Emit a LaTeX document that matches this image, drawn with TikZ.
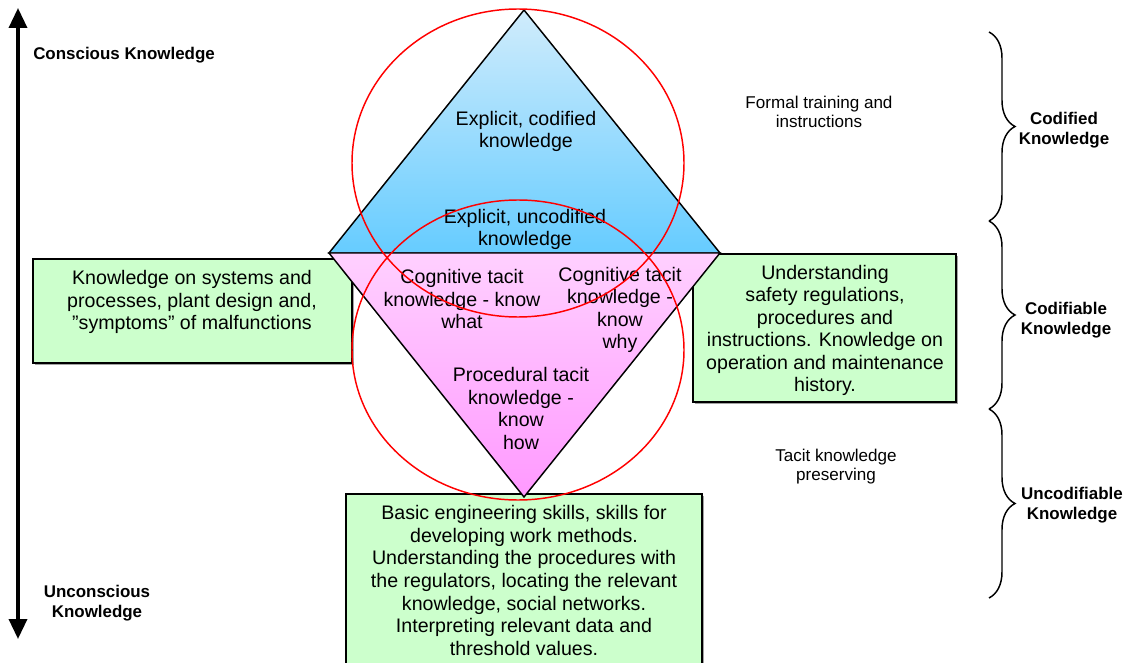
\documentclass[tikz,border=0pt]{standalone}
\usepackage{fontspec}
\setmainfont{Liberation Sans}
\usetikzlibrary{arrows.meta,decorations.pathreplacing,shadows,shapes.geometric}
\definecolor{boxgreen}{RGB}{204,255,204}
\definecolor{bluetop}{RGB}{208,236,252}
\definecolor{bluebot}{RGB}{102,204,255}
\definecolor{pinktop}{RGB}{255,208,255}
\definecolor{pinkbot}{RGB}{255,153,255}
\tikzset{
  body/.style={font=\fontsize{14.7}{16.9}\selectfont, align=center, inner sep=0pt, yshift=-1.5pt},
  small/.style={font=\fontsize{12.8}{14.25}\selectfont, align=center, inner sep=0pt, yshift=-1.2pt},
  sidelabel/.style={font=\bfseries\fontsize{12.7}{15}\selectfont, align=center, inner sep=0pt, yshift=-1.2pt},
  greenbox/.style={draw=black, line width=1.1pt, fill=boxgreen, inner sep=0pt, outer sep=0pt,
    drop shadow={shadow xshift=1.2pt, shadow yshift=-1.2pt, opacity=.6, fill=black!60}},
  ring/.style={draw=red, line width=1.1pt},
  triedge/.style={draw=black, line width=1.1pt, line join=miter},
  bracepath/.style={decorate, decoration={brace, amplitude=19.5pt}, line width=1.1pt},
}
\begin{document}
\begin{tikzpicture}[x=0.75pt,y=-0.75pt]
\clip (0,0) rectangle (1129,663);
\fill[white] (0,0) rectangle (1129,663);

% green boxes
\node[greenbox, minimum width=239.25pt, minimum height=78pt] (lbox) at (192.5,311) {};
\node[greenbox, minimum width=197.25pt, minimum height=111pt] (rbox) at (824.5,328) {};
\node[greenbox, minimum width=267pt, minimum height=139.5pt] (bbox) at (524,587) {};

% triangles
\coordinate (apexT) at (524,10);
\coordinate (baseL) at (329,253);
\coordinate (baseR) at (720,253);
\coordinate (apexB) at (524,497);
\path[triedge, top color=bluetop, bottom color=bluebot] (apexT) -- (baseR) -- (baseL) -- cycle;
\path[triedge, top color=pinktop, bottom color=pinkbot] (baseL) -- (baseR) -- (apexB) -- cycle;

% texts in the diamond
\node[body] (t1) at (526,129.5) {Explicit, codified\\knowledge};
\node[body] (t2) at (525,227.5) {Explicit, uncodified\\knowledge};
\node[body] (t3) at (462,297) {Cognitive tacit\\knowledge - know\\what};
\node[body] (t4) at (620,308) {Cognitive tacit\\knowledge -\\know\\why};
\node[body] (t5) at (521,406.5) {Procedural tacit\\knowledge -\\know\\how};

% box texts
\node[body] (lt) at (192,300) {Knowledge on systems and\\processes, plant design and,\\"symptoms" of malfunctions};
\node[body] (rt) at (825,328.5) {Understanding\\safety regulations,\\procedures and\\instructions. Knowledge on\\operation and maintenance\\history.};
\node[body] (bt) at (524,578.5) {Basic engineering skills, skills for\\developing work methods.\\Understanding the procedures with\\the regulators, locating the relevant\\knowledge, social networks.\\Interpreting relevant data and\\threshold values.};

% red rings
\node[ring, ellipse, minimum width=249pt, minimum height=231pt, inner sep=0pt] (ringT) at (518,163) {};
\node[ring, ellipse, minimum width=249pt, minimum height=225pt, inner sep=0pt] (ringB) at (518,350) {};

% side texts
\node[small] (ft) at (819,110) {Formal training and\\instructions};
\node[small] (tk) at (836,465) {Tacit knowledge\\preserving};

% vertical arrow
\coordinate (arrTop) at (18,8);
\coordinate (arrBot) at (18,639);
\draw[line width=2.6pt, {Triangle[width=13.5pt,length=15pt]}-{Triangle[width=13.5pt,length=15pt]}] (arrTop) -- (arrBot);
\node[sidelabel, anchor=west] (conscious) at (33,54) {Conscious Knowledge};
\node[sidelabel] (unconscious) at (97,602) {Unconscious\\Knowledge};

% braces
\coordinate (b0) at (989,32);
\coordinate (b1) at (989,221);
\coordinate (b2) at (989,409);
\coordinate (b3) at (989,598);
\draw[bracepath] (b0) -- (b1);
\draw[bracepath] (b1) -- (b2);
\draw[bracepath] (b2) -- (b3);
\node[sidelabel] (cod) at (1064,129) {Codified\\Knowledge};
\node[sidelabel] (codable) at (1066,319) {Codifiable\\Knowledge};
\node[sidelabel] (uncod) at (1072,504) {Uncodifiable\\Knowledge};
\end{tikzpicture}
\end{document}
